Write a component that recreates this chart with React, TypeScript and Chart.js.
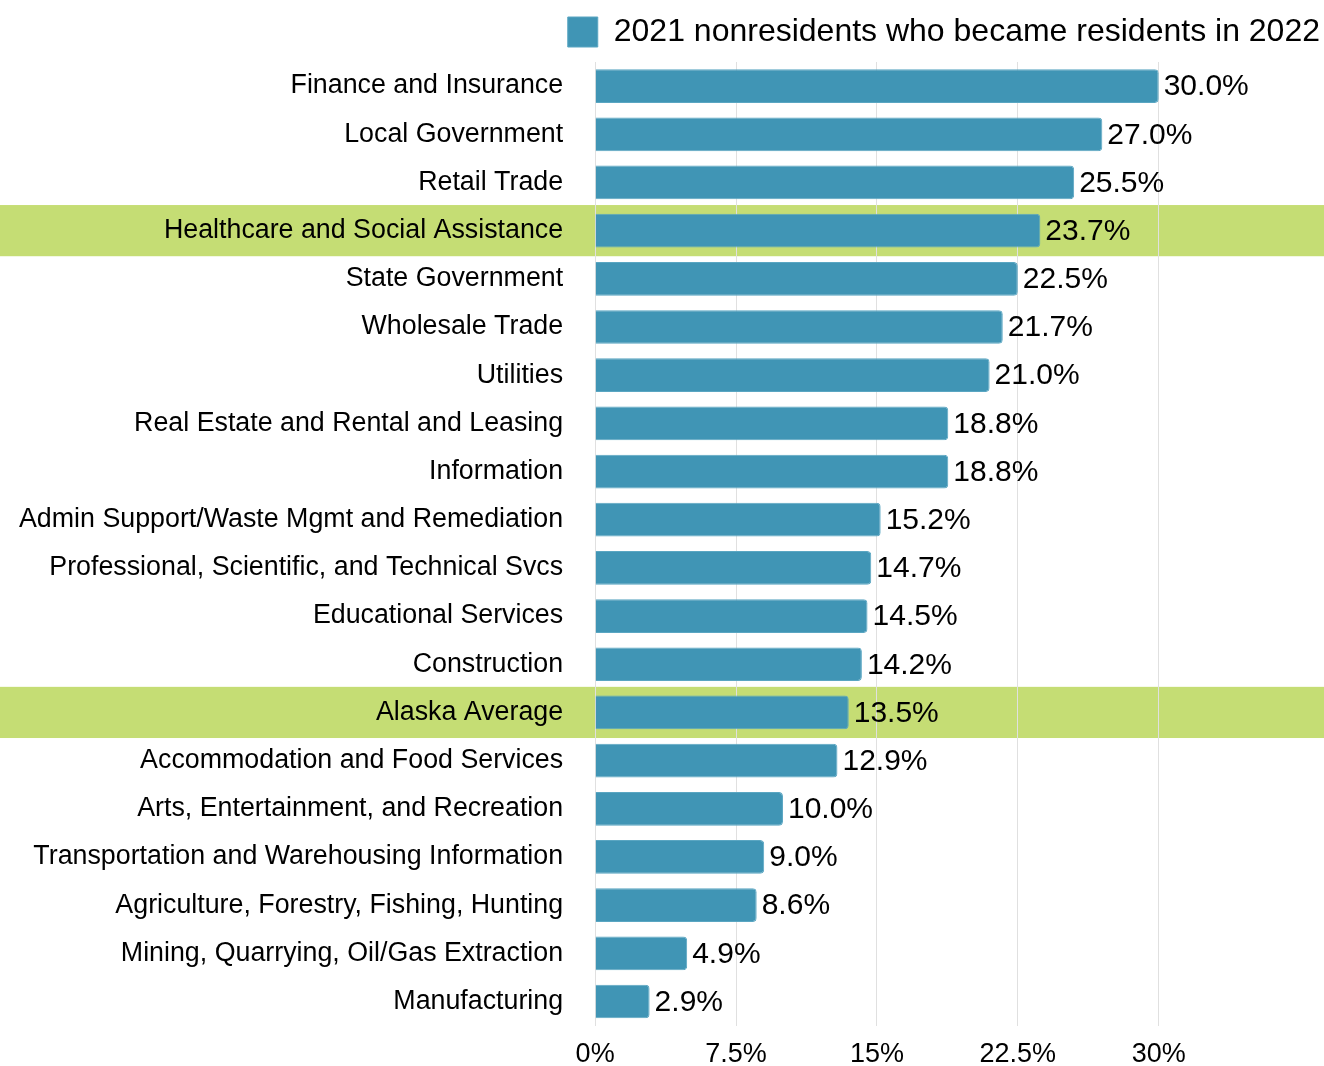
import React, { useEffect, useRef } from "react";
import { Chart, registerables } from "chart.js";

Chart.register(...registerables);

const categories = [
  "Finance and Insurance",
  "Local Government",
  "Retail Trade",
  "Healthcare and Social Assistance",
  "State Government",
  "Wholesale Trade",
  "Utilities",
  "Real Estate and Rental and Leasing",
  "Information",
  "Admin Support/Waste Mgmt and Remediation",
  "Professional, Scientific, and Technical Svcs",
  "Educational Services",
  "Construction",
  "Alaska Average",
  "Accommodation and Food Services",
  "Arts, Entertainment, and Recreation",
  "Transportation and Warehousing Information",
  "Agriculture, Forestry, Fishing, Hunting",
  "Mining, Quarrying, Oil/Gas Extraction",
  "Manufacturing",
];

const values = [
  30.0, 27.0, 25.5, 23.7, 22.5, 21.7, 21.0, 18.8, 18.8, 15.2, 14.7, 14.5, 14.2,
  13.5, 12.9, 10.0, 9.0, 8.6, 4.9, 2.9,
];

const highlighted = ["Healthcare and Social Assistance", "Alaska Average"];

const seriesLabel = "2021 nonresidents who became residents in 2022";

const FONT = "'Liberation Sans', Arial, Helvetica, sans-serif";
const BAR_COLOR = "#4095b5";
const BAND_COLOR = "#c5dd74";

const legendSpacingPlugin = {
  id: "legendSpacing",
  beforeInit(chart: any) {
    const legend = chart.legend;
    if (!legend) return;
    const origFit = legend.fit;
    legend.fit = function () {
      origFit.call(this);
      this.height += 4;
    };
  },
};

const bandPlugin = {
  id: "bands",
  beforeDraw(chart: any) {
    const { ctx, scales } = chart;
    const y = scales.y;
    const step = y.getPixelForValue(1) - y.getPixelForValue(0);
    ctx.save();
    ctx.fillStyle = BAND_COLOR;
    highlighted.forEach((name) => {
      const idx = categories.indexOf(name);
      const cy = y.getPixelForValue(idx);
      const h = step + 3;
      ctx.fillRect(0, cy - h / 2, chart.width, h);
    });
    ctx.restore();
  },
};

const valueLabelPlugin = {
  id: "valueLabels",
  afterDatasetsDraw(chart: any) {
    const { ctx } = chart;
    const meta = chart.getDatasetMeta(0);
    ctx.save();
    ctx.font = `30px ${FONT}`;
    ctx.fillStyle = "#000";
    ctx.textAlign = "left";
    ctx.textBaseline = "middle";
    meta.data.forEach((bar: any, i: number) => {
      ctx.fillText(values[i].toFixed(1) + "%", bar.x + 5, bar.y + 1);
    });
    ctx.restore();
  },
};

export default function App() {
  const ref = useRef<HTMLCanvasElement | null>(null);

  useEffect(() => {
    if (!ref.current) return;
    const chart = new Chart(ref.current, {
      type: "bar",
      data: {
        labels: categories,
        datasets: [
          {
            label: seriesLabel,
            data: values,
            backgroundColor: BAR_COLOR,
            borderColor: "#5aa6c2",
            borderWidth: 1,
            borderRadius: 4,
            borderSkipped: "start",
            categoryPercentage: 1,
            barPercentage: 0.7,
          },
        ],
      },
      options: {
        indexAxis: "y",
        animation: false,
        responsive: true,
        maintainAspectRatio: false,
        layout: { padding: { left: -5, right: 0, top: 12, bottom: -18 } },
        plugins: {
          legend: {
            position: "top",
            align: "end",
            labels: {
              boxWidth: 30,
              boxHeight: 30,
              color: "#000",
              font: { family: FONT, size: 32 },
              padding: 4,
            },
          },
          tooltip: { enabled: false },
        },
        scales: {
          x: {
            min: 0,
            max: 38.8,
            ticks: {
              stepSize: 7.5,
              color: "#000",
              font: { family: FONT, size: 27 },
              callback: (v: any) => v + "%",
              padding: 13,
            },
            afterBuildTicks: (axis: any) => {
              axis.ticks = axis.ticks.filter((t: any) => t.value <= 30);
            },
            grid: { color: "#e0e0e0", lineWidth: 1, drawTicks: false },
            border: { display: false },
          },
          y: {
            ticks: {
              color: "#000",
              font: { family: FONT, size: 26.8 },
              padding: 24,
            },
            grid: { display: false },
            border: { display: false },
          },
        },
      },
      plugins: [legendSpacingPlugin, bandPlugin, valueLabelPlugin],
    });
    return () => chart.destroy();
  }, []);

  return (
    <div
      style={{
        position: "absolute",
        left: 0,
        top: 0,
        width: 1324,
        height: 1066,
        background: "#fff",
      }}
    >
      <canvas ref={ref} />
    </div>
  );
}
